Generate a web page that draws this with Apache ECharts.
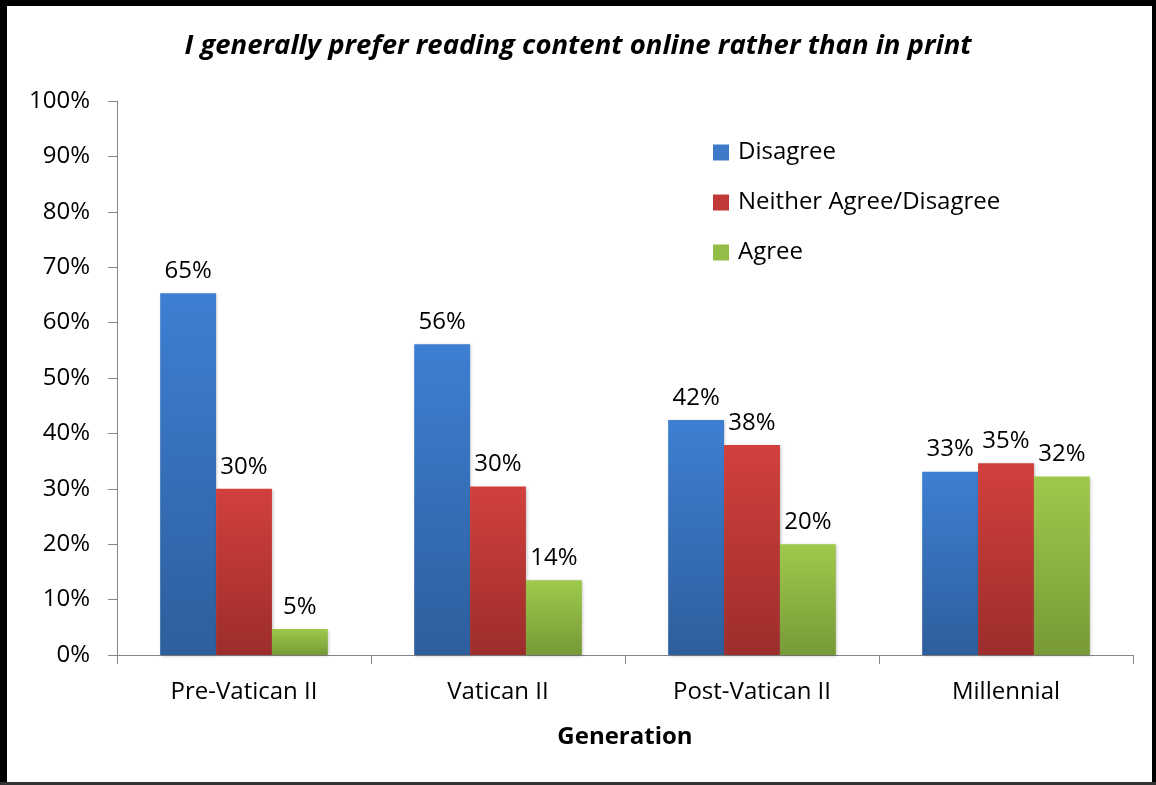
<!DOCTYPE html>
<html><head><meta charset="utf-8">
<script src="https://cdn.jsdelivr.net/npm/echarts@6/dist/echarts.min.js"></script>
<style>html,body{margin:0;padding:0;background:#fff}#c{width:1156px;height:785px}</style>
</head><body><div id="c"></div>
<script>
const categories = ['Pre-Vatican II', 'Vatican II', 'Post-Vatican II', 'Millennial'];
const disagree = [65.3, 56.1, 42.4, 33.1];
const neither = [30.0, 30.4, 37.9, 34.6];
const agree = [4.7, 13.5, 20.0, 32.2];
const yTicks = [0, 10, 20, 30, 40, 50, 60, 70, 80, 90, 100];
const seriesNames = ['Disagree', 'Neither Agree/Disagree', 'Agree'];

const font = 'Open Sans, Noto Sans, sans-serif';
function grad(top, bottom) {
  return new echarts.graphic.LinearGradient(0, 0, 0, 1, [{offset: 0, color: top}, {offset: 1, color: bottom}]);
}
const colors = [grad('#3d7fd3', '#2e5e9c'), grad('#d2403c', '#9c2d2b'), grad('#9ec94b', '#779a37')];
const legendColors = ['#3d7bc8', '#c23a37', '#93bd47'];

const chart = echarts.init(document.getElementById('c'), null, {renderer: 'canvas'});
function mk(name, data, i) {
  return {
    name: name, type: 'bar', data: data,
    barGap: '0%', barCategoryGap: '34%',
    itemStyle: {color: colors[i], shadowColor: 'rgba(0,0,0,0.25)', shadowBlur: 3, shadowOffsetX: 1, shadowOffsetY: 1},
    label: {show: true, position: 'top', distance: 10, color: '#000', fontFamily: font, fontSize: 24,
      formatter: p => Math.round(p.value) + '%'}
  };
}
chart.setOption({
  backgroundColor: '#fff',
  animation: false,
  title: {text: 'I generally prefer reading content online rather than in print', left: 'center', top: 28,
    textStyle: {fontFamily: font, fontStyle: 'italic', fontWeight: 'bold', fontSize: 27.5, color: '#000'}},
  legend: {orient: 'vertical', left: 708, top: 135, itemGap: 25, itemWidth: 16, itemHeight: 16, icon: 'rect',
    data: seriesNames.map((n, i) => ({name: n, itemStyle: {color: legendColors[i]}})),
    textStyle: {fontFamily: font, fontSize: 24, lineHeight: 25, color: '#000', padding: [0, 0, 0, 4]}},
  grid: {left: 117, right: 23, top: 101, bottom: 130, containLabel: false},
  xAxis: {type: 'category', data: categories,
    name: 'Generation', nameLocation: 'middle', nameGap: 70,
    nameTextStyle: {fontFamily: font, fontWeight: 'bold', fontSize: 24, color: '#000'},
    axisLine: {lineStyle: {color: '#868686', width: 1}},
    axisTick: {show: true, length: 9, alignWithLabel: false, lineStyle: {color: '#868686'}},
    axisLabel: {fontFamily: font, fontSize: 24, color: '#000', margin: 25}},
  yAxis: {type: 'value', min: 0, max: 100, interval: 10,
    axisLine: {show: true, lineStyle: {color: '#868686', width: 1}},
    axisTick: {show: true, length: 9, lineStyle: {color: '#868686'}},
    splitLine: {show: false},
    axisLabel: {fontFamily: font, fontSize: 24, color: '#000', margin: 27,
      formatter: v => yTicks.includes(v) ? v + '%' : ''}},
  graphic: [
    {type: 'rect', shape: {x: 0, y: 0, width: 1156, height: 6}, style: {fill: '#000'}, silent: true},
    {type: 'rect', shape: {x: 0, y: 0, width: 7, height: 785}, style: {fill: '#000'}, silent: true},
    {type: 'rect', shape: {x: 1152, y: 0, width: 4, height: 785}, style: {fill: '#000'}, silent: true},
    {type: 'rect', shape: {x: 0, y: 782, width: 1156, height: 3}, style: {fill: '#333'}, silent: true}
  ],
  series: [mk(seriesNames[0], disagree, 0), mk(seriesNames[1], neither, 1), mk(seriesNames[2], agree, 2)]
});
</script></body></html>
